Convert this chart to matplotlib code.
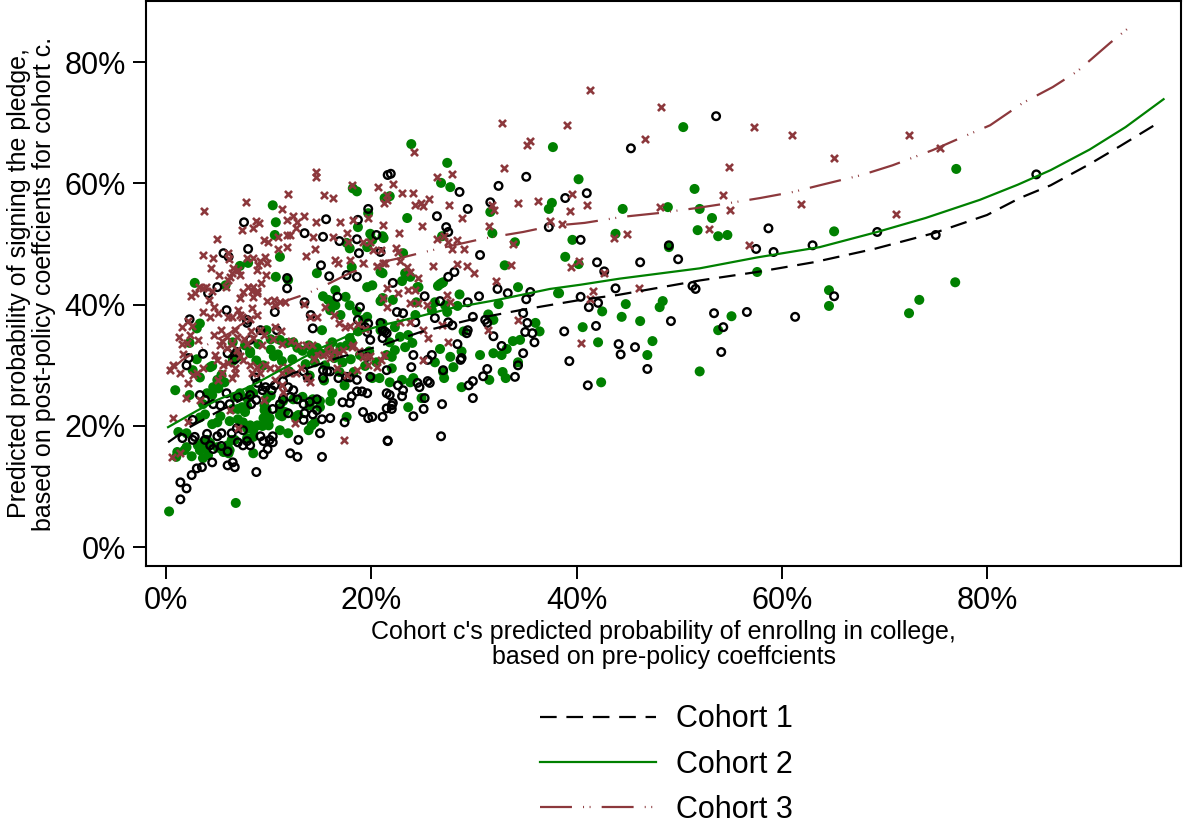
import matplotlib
matplotlib.use("Agg")
import matplotlib.pyplot as plt
from matplotlib.ticker import FixedLocator

plt.rcParams['font.family'] = ['Liberation Sans', 'DejaVu Sans']
plt.rcParams['lines.scale_dashes'] = False

# ---------------- data (percent) ----------------
cohort1_points = [
    (53.6,71.1),(45.3,65.8),(84.8,61.5),(35.1,61.1),(41.0,58.4),(38.9,57.6),(32.4,59.6),(21.9,61.6),
    (28.6,58.6),(31.6,56.9),(29.4,55.8),(26.4,54.6),(27.3,52.8),(27.5,52.0),(37.3,52.8),(40.4,50.7),
    (30.6,48.2),(42.0,47.0),(42.7,45.5),(28.1,45.4),(27.5,44.6),(22.1,43.6),(43.8,42.7),(58.7,52.6),
    (49.0,49.8),(57.5,49.2),(59.2,48.7),(63.0,49.8),(46.2,47.0),(49.9,47.5),(51.3,43.1),(51.6,42.6),
    (40.4,41.3),(41.2,39.6),(42.1,40.3),(53.4,38.6),(56.6,38.8),(61.3,38.0),(49.2,37.3),(41.9,36.5),
    (54.3,36.3),(44.1,33.5),(45.7,33.0),(44.3,31.8),(54.1,32.2),(46.9,29.4),(41.1,26.7),(69.3,52.0),
    (75.0,51.5),(65.1,41.4),(38.8,35.6),(39.3,30.7),
    (25.2,41.4),(22.5,38.8),(23.1,38.6),(24.3,37.1),(26.2,37.8),(26.7,40.6),(29.4,40.4),(30.5,41.4),
    (32.3,42.6),(33.3,41.9),(35.1,40.9),(35.5,42.1),(29.9,38.0),(31.1,37.5),(31.3,37.0),(34.8,38.6),
    (35.2,37.0),(27.5,37.1),(27.9,36.6),(29.3,35.3),(29.4,35.8),(31.9,34.8),(35.0,35.5),(35.7,35.3),
    (35.9,33.8),(21.3,35.6),(21.1,34.5),(24.1,31.7),(25.9,31.7),(25.5,30.9),(28.4,33.5),(28.8,31.2),
    (28.7,30.9),(32.7,33.2),(34.8,32.0),(34.3,30.0),(31.3,29.4),(30.9,28.2),(29.9,27.4),(29.5,26.7),
    (34.0,28.1),(23.9,29.7),(21.5,29.2),(25.5,27.4),(24.7,26.4),(22.6,26.7),(23.0,24.9),(21.8,25.1),
    (25.2,24.6),(22.1,23.8),(22.0,22.8),(21.1,21.5),(24.1,21.6),(25.1,22.8),(26.9,23.6),(29.9,24.6),
    (21.6,17.5),(26.8,18.3),
    (21.6,61.4),(19.7,55.8),(15.6,54.1),(13.5,51.8),(7.6,53.6),(16.9,50.5),(15.3,51.2),(18.6,50.8),
    (18.7,54.0),(18.8,48.5),(20.9,48.7),(20.5,51.5),(8.0,49.2),(5.6,48.5),(6.1,47.9),(15.1,46.5),
    (15.9,44.7),(17.6,44.9),(18.6,44.6),(5.0,42.9),(4.1,41.9),(16.7,41.3),(11.8,42.7),(13.5,40.4),
    (14.1,38.3),(18.9,39.6),(19.7,36.9),(19.4,36.3),(10.6,38.8),(5.9,39.1),(2.3,37.6),(7.9,37.5),
    (7.9,37.0),(14.3,36.1),(10.8,35.8),(9.2,35.8),(8.2,34.2),(21.1,35.8),(21.5,35.3),(19.9,34.2),
    (3.6,31.9),(6.0,32.0),(6.9,32.2),
    (2.2,31.2),(2.0,30.0),(6.7,31.0),(8.7,28.0),(8.9,27.1),(9.7,26.4),(9.4,25.9),(8.2,25.1),
    (10.3,25.9),(10.6,26.7),(3.3,25.1),(3.8,24.3),(4.6,23.6),(5.3,23.4),(6.2,23.6),(5.9,25.4),
    (7.0,24.8),(2.6,17.7),(2.8,18.2),(4.0,18.7),(3.8,17.7),(4.3,16.8),(4.6,16.2),(5.4,16.7),
    (6.0,15.8),(7.9,17.5),(8.2,16.8),(7.0,17.3),(7.5,16.8),(9.2,18.3),(9.5,17.5),(10.1,17.7),
    (10.4,18.3),(10.4,17.3),(9.9,16.2),(9.5,15.3),(12.1,15.5),(12.8,14.9),(15.2,14.9),(12.9,17.7),
    (8.8,12.4),(2.5,11.9),(3.0,13.0),(3.5,13.2),(4.5,14.0),(6.0,13.5),(6.7,13.2),(6.5,14.0),
    (1.4,10.7),(2.0,9.7),(1.4,7.9),(10.4,22.8),(11.1,23.6),(11.4,24.4),(12.1,24.8),(12.8,24.4),
    (13.4,23.6),(14.0,24.0),(14.7,24.4),(13.5,22.1),(14.3,21.9),(15.2,21.1),(16.0,21.3),(13.4,21.0),
    (11.9,22.1),(17.2,23.9),(19.2,22.3),(19.7,21.3),(20.1,21.5),(17.9,23.8),(19.1,25.7),(19.6,25.4),
    (18.6,25.7),(18.1,24.9),(16.8,27.9),(17.9,28.0),(15.7,29.0),(16.0,29.0),(15.3,27.9),(21.5,22.9),
    (21.6,17.6),(13.4,29.0),(13.8,28.0),(11.4,27.4),(12.4,25.9),(11.9,26.4),(8.8,24.3),(8.3,23.6),
    (7.5,19.3),(6.9,19.6),(6.4,18.8),(5.0,18.3),(5.4,18.8),(1.6,18.0),(2.6,21.0),
    (19.6,35.5),(20.9,37.0),(18.7,37.5),(19.6,31.4),(18.6,27.6),(19.9,28.1),(17.6,28.1),(15.3,29.2),
    (17.4,20.6),(15.0,18.8),(14.7,22.6),(24.5,27.1),(25.7,27.1),(27.0,29.2),(21.5,25.4),(23.1,25.9),
    (22.0,23.4),(11.8,44.4),
]

cohort2_points = [
    (50.4,69.3),(37.7,66.0),(40.2,60.7),(37.6,56.8),(44.5,55.8),(51.5,59.1),(48.9,56.1),(52.0,55.8),
    (53.2,54.3),(51.8,52.3),(53.8,51.3),(54.7,51.5),(43.8,51.7),(39.6,50.7),(38.9,47.9),(40.2,46.7),
    (49.0,49.5),(65.1,52.1),(77.0,62.4),(57.6,45.4),(64.6,42.4),(64.6,39.8),(73.4,40.8),(72.4,38.6),
    (76.9,43.7),(38.3,41.9),(44.8,40.1),(48.4,40.6),(48.1,39.6),(42.5,38.9),(44.4,38.0),(46.2,37.3),
    (40.6,36.3),(42.1,33.8),(47.4,34.0),(46.9,31.7),(55.1,38.1),(53.8,35.8),(52.0,29.0),(42.4,27.2),
    (23.9,66.5),(27.4,63.4),(26.8,60.1),(27.7,59.4),(21.8,57.9),(21.3,57.6),(23.5,54.3),(37.3,55.8),
    (31.6,55.3),(21.2,51.0),(26.9,51.3),(31.8,51.8),(34.0,50.3),(23.1,48.5),(33.0,46.5),(21.1,45.2),
    (23.3,45.2),(23.0,43.9),(26.9,43.6),(26.5,43.1),(24.6,42.9),(34.3,42.9),
    (23.8,44.6),(26.7,43.4),(27.0,43.7),(28.6,41.7),(24.5,42.9),(24.4,40.4),(25.9,39.1),(26.2,40.4),
    (27.2,39.9),(27.4,38.8),(28.4,39.8),(22.1,40.8),(32.4,40.1),(38.2,41.9),(31.4,38.4),(31.9,37.5),
    (29.0,35.6),(24.3,38.3),(22.3,36.3),(23.6,35.0),(22.8,34.7),(24.0,33.7),(23.3,33.0),(21.8,33.8),
    (22.3,32.5),(21.5,31.7),(22.0,31.4),(26.7,32.7),(27.7,31.4),(28.0,29.7),(28.8,32.3),(26.2,30.5),
    (30.6,31.7),(31.9,32.0),(32.7,31.7),(33.2,32.7),(33.8,34.0),(34.5,34.2),(36.0,37.0),(36.4,35.6),
    (34.3,30.5),(31.5,27.6),(32.8,28.9),(33.1,27.9),(27.0,28.9),(27.1,27.9),(28.8,26.4),(22.0,29.5),
    (20.8,27.9),(21.8,27.2),(23.0,27.6),(23.8,27.2),(24.1,27.9),(24.9,24.6),(23.6,23.1),
    (18.2,59.2),(18.6,58.7),(10.4,56.4),(10.7,53.6),(10.6,51.5),(11.1,47.9),(8.0,46.9),(7.2,46.4),
    (5.8,43.2),(10.7,44.6),(11.9,44.1),(17.6,50.2),(17.9,49.3),(19.7,55.1),(18.7,52.8),(21.1,51.3),
    (19.9,51.7),(20.1,50.7),(19.6,49.5),(18.1,46.2),(14.7,45.2),(19.6,42.9),(20.1,43.2),(20.9,45.4),
    (17.5,41.3),(16.5,42.4),(15.3,41.4),(15.8,40.8),(16.2,40.3),(17.9,39.9),(18.6,38.9),(3.3,36.9),
    (3.0,36.1),(8.2,32.0),(6.5,31.2),(7.0,31.4),(16.0,40.6),(16.5,39.9),(16.0,39.1),(17.0,38.3),
    (20.9,40.6),(21.1,41.1),(15.2,35.8),(21.1,36.9),(20.9,35.8),(2.8,43.6),(2.3,33.7),(0.9,25.9),
    (9.8,35.8),(10.2,34.3),(11.1,34.2),(11.8,33.7),(12.4,33.8),(12.8,32.9),(13.3,32.4),(13.9,33.3),
    (14.2,31.9),(14.7,32.9),(15.2,31.9),(15.9,32.7),(16.2,33.8),(17.0,33.0),(17.6,33.3),(18.1,33.8),
    (17.9,34.5),(18.7,35.6),(19.2,37.5),(19.6,38.0),(10.5,31.5),(11.3,30.7),(12.3,31.0),(13.6,30.2),
    (14.5,30.5),(15.5,30.0),(16.4,31.2),(17.2,30.5),(18.0,31.0),(18.9,31.7),(19.8,32.3),(20.5,30.5),
    (19.4,29.9),(12.0,29.0),(14.0,28.3),(15.4,27.5),(16.9,28.9),(18.3,28.9),(20.1,27.9),(17.4,26.7),
    (9.5,30.0),(8.8,30.8),
    (4.5,29.9),(5.4,28.4),(5.0,27.6),(5.7,27.2),(4.6,26.4),(4.0,25.4),(4.5,25.1),(5.1,26.2),
    (2.3,25.1),(3.6,23.6),(3.8,21.9),(3.3,21.4),(4.5,20.3),(5.3,21.6),(5.0,20.6),(6.2,20.8),
    (7.0,21.1),(7.5,20.6),(7.4,23.1),(7.9,23.3),(7.7,22.3),(7.0,22.8),(6.5,22.8),(8.2,20.1),
    (8.5,19.3),(7.9,19.6),(7.9,18.0),(8.5,18.2),(6.4,17.7),(6.0,16.8),(6.7,17.7),(4.3,17.2),
    (4.0,17.7),(3.6,17.3),(5.0,16.5),(5.3,16.3),(6.2,16.0),(5.6,15.7),(6.1,15.5),(3.8,16.5),
    (3.1,16.8),(3.3,16.0),(4.1,15.2),(3.6,14.7),(2.5,15.0),(2.0,16.5),(1.8,16.0),(1.1,15.7),
    (1.0,14.9),(1.2,19.0),(2.0,18.8),(8.5,15.5),(6.8,7.3),(0.3,5.9),(8.9,20.1),(9.4,20.0),
    (9.5,21.3),(10.0,20.1),(10.1,21.3),(9.6,22.6),(9.8,22.6),(9.6,23.4),(9.8,24.5),(10.2,25.0),
    (11.1,22.9),(11.3,21.6),(11.1,21.8),(11.6,22.3),(11.1,19.3),(11.9,18.8),(12.6,21.5),(12.9,21.8),
    (14.3,24.4),(15.0,24.1),(14.0,23.4),(15.0,23.1),(13.3,24.8),(12.4,24.4),(11.4,24.1),(14.2,20.1),
    (14.5,20.6),(13.9,19.3),(16.0,24.1),(16.2,25.4),(17.6,21.5),(8.2,25.9),(8.5,25.4),(7.9,24.6),
    (7.2,25.4),(6.7,24.8),(3.0,31.0),(2.6,29.2),(3.3,28.0),(6.9,31.7),(6.5,30.7),(8.2,32.3),
    (7.7,33.3),(6.5,33.8),(9.0,33.5),(10.2,32.6),(10.9,31.8),(4.3,29.7),
]

cohort3_points = [
    (41.3,75.4),(48.2,72.6),(39.1,69.6),(46.7,67.3),(57.3,69.3),(61.0,68.0),(72.4,68.0),(65.1,64.2),
    (75.4,65.8),(54.9,62.7),(54.3,58.1),(39.6,58.3),(41.0,56.4),(39.4,55.4),(48.1,56.1),(55.0,55.6),
    (61.9,56.6),(71.1,55.0),(52.9,52.5),(43.7,51.0),(44.9,51.7),(56.8,49.8),(40.2,47.2),(39.5,46.2),
    (42.7,45.2),(41.6,42.2),(41.3,40.9),(46.1,42.7),(40.4,33.7),
    (32.7,70.0),(35.5,67.0),(35.2,66.3),(24.2,65.2),(32.9,62.5),(27.9,61.6),(26.4,61.1),(22.1,59.9),
    (23.0,58.4),(24.1,58.4),(25.6,57.4),(24.3,56.4),(24.8,56.8),(25.0,56.3),(27.6,56.4),(21.5,57.3),
    (21.2,56.8),(34.3,56.8),(36.2,57.1),(31.8,56.4),(32.0,55.6),(28.8,54.3),(24.9,53.0),(21.1,53.1),
    (31.5,53.0),(37.4,53.8),(38.6,53.3),(22.7,51.8),(27.1,51.3),(26.4,50.8),(28.4,50.7),(27.5,50.3),
    (33.8,50.0),(27.9,49.2),(29.0,49.2),(22.4,49.3),(22.6,48.7),(22.8,47.2),(26.0,46.4),(28.4,46.7),
    (29.3,46.4),(30.0,45.2),(33.6,46.5),(21.3,46.9),(23.5,46.2),(23.8,45.4),(24.6,44.4),(32.2,43.9),
    (21.5,42.7),(22.6,41.9),(23.6,42.4),(24.3,42.4),(21.1,41.1),(21.5,39.6),(23.8,40.3),(24.6,40.3),
    (25.4,39.9),(27.4,41.6),(27.7,40.4),(26.9,36.6),(25.0,35.8),(25.5,34.5),(27.5,33.8),(31.4,35.8),
    (34.3,37.5),(25.0,30.9),(23.8,37.1),(22.8,37.1),
    (14.6,61.9),(14.6,61.1),(7.8,56.9),(3.7,55.4),(11.9,58.3),(15.4,58.1),(16.3,57.6),(18.1,59.7),
    (20.7,59.4),(21.5,58.1),(11.3,55.8),(12.4,54.6),(13.4,54.6),(12.8,53.6),(11.8,54.0),(8.8,53.8),
    (9.1,53.5),(8.5,52.6),(7.4,52.3),(5.0,50.8),(14.6,53.6),(17.0,53.6),(18.2,54.0),(19.7,54.3),
    (12.7,52.6),(9.9,50.3),(9.5,50.7),(10.9,51.2),(11.8,51.5),(12.1,51.5),(14.3,51.2),(16.3,51.2),
    (17.6,51.8),(17.7,50.3),(19.2,50.3),(19.9,50.3),(20.2,49.0),(20.9,49.0),(11.8,49.5),(10.9,49.2),
    (13.6,48.0),(14.5,49.2),(16.5,47.4),(16.8,46.9),(17.9,47.4),(19.2,46.9),(20.6,46.4),(21.1,46.9),
    (6.0,48.5),(6.1,47.5),(4.6,47.7),(3.6,48.2),(4.4,46.0),(7.9,47.7),(8.5,47.7),(9.2,47.2),
    (9.6,47.9),(9.8,46.9),(6.5,46.0),(7.0,45.7),(6.4,45.2),(7.2,44.9),(9.0,46.5),(8.9,45.7),
    (9.7,44.9),(9.3,43.6),(8.5,43.0),(8.9,42.2),(5.2,44.9),(6.0,44.1),(6.2,44.6),(5.8,42.9),
    (3.2,42.9),(3.6,42.7),(3.9,42.9),(2.4,41.4),(2.8,41.9),(7.2,41.1),(7.5,42.1),(8.0,42.9),
    (8.4,42.2),(8.5,41.3),(8.9,41.9),(4.5,42.2),(4.2,40.8),(4.7,39.6),(5.1,38.6),(4.3,38.0),
    (3.6,38.8),(6.0,38.0),(6.4,38.0),(7.0,39.1),(7.2,38.3),(7.4,38.0),(8.4,39.4),(8.9,38.3),
    (8.2,37.6),(9.8,40.6),(10.5,40.8),(10.6,40.0),(11.1,40.4),(11.6,40.4),(13.4,40.1),(14.0,38.0),
    (15.5,39.6),(16.4,38.3),(16.9,37.0),(17.4,36.3),(17.9,36.5),(18.7,36.8),(19.4,36.0),(14.7,38.0),
    (2.1,37.3),(1.6,36.3),(2.5,36.5),(2.3,35.0),(1.3,34.7),(3.1,34.2),(2.0,33.7),(4.7,35.0),
    (5.4,35.8),(5.9,34.7),(6.7,35.8),(6.9,34.7),(7.6,34.3),(8.3,35.6),(8.5,34.5),(7.9,33.5),
    (5.5,34.0),(5.3,33.3),(5.9,32.8),(6.4,33.5),(1.6,33.5),(1.7,31.9),(9.2,35.8),(9.5,35.0),
    (9.4,33.3),(10.6,36.3),(11.2,35.6),(10.4,34.3),(11.3,33.5),(12.2,34.0),(12.9,33.3),(14.2,33.3),
    (14.7,31.9),(14.4,31.0),(15.9,33.3),(16.4,32.3),(16.0,31.2),(16.9,32.0),(18.1,33.0),(18.8,32.3),
    (19.2,31.3),(19.9,31.6),(20.9,30.9),
    (0.4,29.2),(1.4,28.7),(0.7,30.0),(2.6,28.4),(2.1,27.1),(3.0,28.7),(3.6,29.5),(4.8,31.7),
    (5.0,30.9),(5.6,30.0),(5.5,28.7),(5.1,27.6),(6.0,30.4),(6.7,29.5),(6.7,28.7),(6.4,27.9),
    (6.9,32.5),(7.2,31.5),(7.5,30.9),(8.2,30.0),(8.9,29.7),(9.6,30.0),(10.1,29.5),(9.2,28.7),
    (8.4,28.7),(10.9,29.5),(11.8,29.7),(11.3,28.7),(12.0,28.8),(10.6,27.6),(11.3,26.7),(9.5,24.3),
    (0.7,21.3),(2.1,20.6),(7.0,19.6),(6.2,22.6),(3.3,24.3),(1.9,24.6),(0.6,14.9),(1.4,15.5),
    (12.6,20.5),(17.3,17.7),(11.4,25.6),(13.7,27.9),(14.0,27.2),(12.7,28.7),(13.2,29.5),(16.7,29.5),
    (17.6,28.4),(18.6,29.2),(19.7,30.0),(20.6,29.7),(21.2,31.7),(19.6,31.4),(15.3,31.7),(15.8,32.2),
    (18.2,33.3),(17.2,32.5),(13.6,33.3),
]

# fitted curves
fit1_x = [0.2, 2.3, 5.0, 9.2, 12.4, 16.7, 21.0, 24.8, 29.6, 34.5, 40.4, 44.0, 52.0, 57.6, 63.1,
          69.0, 74.8, 80.0, 83.2, 86.2, 90.0, 93.0, 96.2]
fit1_y = [17.3, 19.8, 22.3, 25.9, 28.7, 31.2, 33.3, 35.5, 37.5, 39.1, 40.8, 41.6, 44.0, 45.4, 47.0,
          49.2, 51.8, 54.8, 57.6, 59.7, 63.2, 66.2, 69.5]
fit2_x = [0.2, 3.0, 5.0, 8.2, 12.0, 15.0, 17.9, 21.0, 24.5, 27.7, 32.3, 37.4, 40.4, 44.2, 52.0,
          57.6, 63.7, 69.3, 74.0, 79.3, 83.0, 86.2, 90.0, 93.5, 97.2]
fit2_y = [19.8, 22.5, 24.3, 26.5, 30.0, 32.8, 35.0, 36.6, 38.0, 39.4, 40.8, 42.6, 43.3, 44.3, 46.0,
          47.8, 49.5, 52.0, 54.3, 57.3, 59.8, 62.2, 65.6, 69.3, 73.9]
fit3_x = [0.1, 1.6, 4.3, 6.2, 7.2, 9.2, 11.1, 13.7, 16.0, 18.0, 21.2, 22.8, 25.2, 28.0, 30.9, 34.8,
          37.6, 40.8, 44.5, 47.9, 51.5, 55.0, 57.9, 61.1, 63.7, 67.8, 70.8, 74.7, 77.4, 80.3, 83.5,
          86.4, 88.8, 92.0, 94.4]
fit3_y = [28.7, 30.9, 33.7, 35.3, 36.6, 38.6, 40.3, 41.8, 43.6, 45.3, 47.1, 47.7, 48.7, 49.8, 50.9,
          52.0, 53.0, 53.5, 54.5, 55.1, 55.9, 56.8, 57.6, 58.6, 59.7, 61.4, 63.0, 65.5, 67.5, 69.6,
          73.3, 75.9, 78.5, 83.2, 86.5]

labels = ["Cohort 1", "Cohort 2", "Cohort 3"]
xticks = [0, 20, 40, 60, 80]
yticks = [0, 20, 40, 60, 80]

c1x, c1y = zip(*cohort1_points)
c2x, c2y = zip(*cohort2_points)
c3x, c3y = zip(*cohort3_points)

BLACK = "#000000"
GREEN = "#008000"
RED = "#8C383C"

fig = plt.figure(figsize=(11.83, 8.24), dpi=100)
ax = fig.add_axes([146/1183, 1-566/824, (1181-146)/1183, (566-1)/824])

ax.scatter(c2x, c2y, s=52, marker='o', facecolor=GREEN, edgecolor='none', zorder=2)
ax.scatter(c1x, c1y, s=30, marker='o', facecolor='none', edgecolor=BLACK, linewidths=1.7, zorder=3)
ax.scatter(c3x, c3y, s=26, marker='x', color=RED, linewidths=1.9, zorder=4)

l1, = ax.plot(fit1_x, fit1_y, color=BLACK, lw=1.6, dashes=(12, 7), zorder=5, label=labels[0])
l2, = ax.plot(fit2_x, fit2_y, color=GREEN, lw=1.6, zorder=5, label=labels[1])
l3, = ax.plot(fit3_x, fit3_y, color=RED, lw=1.6, dashes=(23, 8, 0.7, 4, 0.7, 8), zorder=5,
              label=labels[2])

ax.set_xlim(-1.95, 98.9)
ax.set_ylim(-3.1, 90.1)
ax.xaxis.set_major_locator(FixedLocator(xticks))
ax.yaxis.set_major_locator(FixedLocator(yticks))
ax.set_xticklabels([f"{t}%" for t in xticks])
ax.set_yticklabels([f"{t}%" for t in yticks])
ax.tick_params(axis='both', which='major', labelsize=22, length=9.5, width=1.4, direction='out')
ax.tick_params(axis='x', pad=5)
ax.tick_params(axis='y', pad=5)
for sp in ax.spines.values():
    sp.set_linewidth(1.5)

ax.set_xlabel("Cohort c's predicted probability of enrollng in college,\nbased on pre-policy coeffcients",
              fontsize=18, linespacing=1.05, labelpad=3)
ax.set_ylabel("Predicted probability of signing the pledge,\nbased on post-policy coeffcients for cohort c.",
              fontsize=18, linespacing=1.05, labelpad=6)

fig.legend(handles=[l1, l2, l3], loc='center', bbox_to_anchor=(0.563, 0.072),
           frameon=False, fontsize=22, handlelength=3.8, handletextpad=0.65, labelspacing=0.5)

fig.savefig("out.png", dpi=100)
